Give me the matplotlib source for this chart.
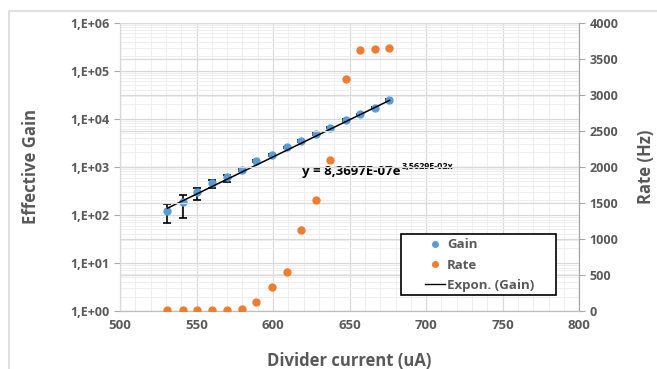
import matplotlib
matplotlib.use("Agg")
import matplotlib.pyplot as plt
from matplotlib.lines import Line2D
from matplotlib.patches import Rectangle
import numpy as np

plt.rcParams['font.family'] = ['Open Sans', 'DejaVu Sans']

# data
current = [531, 541, 550, 560, 570, 579.5, 589, 599, 609, 618.5, 628, 637.5, 647.5, 657, 666.5, 676]
gain = [122, 188, 304, 468, 624, 860, 1320, 1765, 2550, 3450, 4830, 6530, 9440, 12400, 17000, 24600]
gain_lo = [53, 100, 100, 100, 140, 40, 60, 70, 100, 120, 160, 200, 280, 360, 480, 650]
gain_hi = [47, 72, 64, 64, 43, 40, 60, 70, 100, 120, 160, 200, 280, 360, 480, 650]
rate = [10, 10, 10, 10, 10, 28, 125, 330, 545, 1125, 1540, 2095, 3214, 3620, 3635, 3645]
fit_a = 8.3697e-07
fit_b = 3.5629e-02

gray = '#595959'
blue = '#5b9bd5'
orange = '#ed7d31'

fig = plt.figure(figsize=(6.57, 3.69), dpi=100)
ax = fig.add_axes([0.1826, 0.1572, 0.6991, 0.7813])
ax2 = ax.twinx()

# left axis: gain (log)
ax.set_yscale('log')
ax.set_ylim(1, 1e6)
ax.set_xlim(500, 800)
ax.set_xticks(np.arange(500, 801, 50))
ax.set_xticks(np.arange(500, 801, 10), minor=True)
ax.set_yticks([10.0**k for k in range(7)])
ax.set_yticklabels(['1,E+%02d' % k for k in range(7)])
ax.grid(True, which='major', color='#d9d9d9', lw=0.9)
ax.grid(True, which='minor', color='#eeeeee', lw=0.7)
ax.set_axisbelow(True)

xf = np.linspace(current[0], current[-1], 100)
ax.errorbar(current, gain, yerr=[gain_lo, gain_hi], fmt='none', ecolor='black',
            elinewidth=1.2, capsize=3, capthick=1.2, zorder=3)
ax.plot(current, gain, 'o', color=blue, ms=5, zorder=4)
ax.plot(xf, fit_a * np.exp(fit_b * xf), color='black', lw=1.1, zorder=5)

t = ax.text(619, 800, 'y = 8,3697E-07e', fontsize=9.5, fontweight='bold', color='black',
            va='center', ha='left')
ax.annotate('3,5629E-02x', xy=(1.01, 0.55), xycoords=t, fontsize=6.5, fontweight='bold',
            color='black', va='bottom', ha='left')

# right axis: rate
ax2.set_ylim(0, 4000)
ax2.set_yticks(np.arange(0, 4001, 500))
ax2.plot(current, rate, 'o', color=orange, ms=5, zorder=4)
ax2.grid(True, axis='y', color='#d9d9d9', lw=0.9)

for a in (ax, ax2):
    a.spines['top'].set_visible(False)
    a.spines['left'].set_color('#d9d9d9')
    a.spines['bottom'].set_color('#bfbfbf')
    a.spines['right'].set_color('#a6a6a6')

ax.tick_params(axis='x', which='both', length=0, labelsize=9.5, labelcolor=gray, pad=6)
ax.tick_params(axis='y', which='major', length=4, color='#a6a6a6', labelsize=9, labelcolor=gray)
ax.tick_params(axis='y', which='minor', length=0)
ax2.tick_params(axis='y', length=4, color='#a6a6a6', labelsize=9, labelcolor=gray)
for lab in ax.get_xticklabels() + ax.get_yticklabels() + ax2.get_yticklabels():
    lab.set_fontweight('bold')

ax.set_xlabel('Divider current (uA)', fontsize=12, fontweight='bold', color=gray)
ax.set_ylabel('Effective Gain', fontsize=12, fontweight='bold', color=gray)
ax2.set_ylabel('Rate (Hz)', fontsize=12, fontweight='bold', color=gray)
ax.xaxis.set_label_coords(0.5, -0.142)
ax.yaxis.set_label_coords(-0.175, 0.5)
ax2.yaxis.set_label_coords(1.125, 0.5)

# legend
ax2.add_patch(Rectangle((0.611, 0.0555), 0.338, 0.212, transform=ax2.transAxes,
                        fill=True, facecolor='white', edgecolor='black', lw=1.2, zorder=6))
handles = [Line2D([], [], ls='none', marker='o', color=blue, ms=4),
           Line2D([], [], ls='none', marker='o', color=orange, ms=4),
           Line2D([], [], color='black', lw=1)]
leg = ax2.legend(handles, ['Gain', 'Rate', 'Expon. (Gain)'], loc='upper left',
                 bbox_to_anchor=(0.665, 0.252), frameon=False, fontsize=9.5,
                 handlelength=1.5, handletextpad=0.15, labelspacing=0.55,
                 borderpad=0, borderaxespad=0)
leg.set_zorder(7)
for txt in leg.get_texts():
    txt.set_color(gray)
    txt.set_fontweight('bold')

# chart area border
fig.patches.append(Rectangle((9 / 657, -0.1), 1.2, 1.1 - 11 / 369, transform=fig.transFigure,
                             fill=False, edgecolor='#d9d9d9', lw=1.2))

fig.savefig('out.png', dpi=100)
